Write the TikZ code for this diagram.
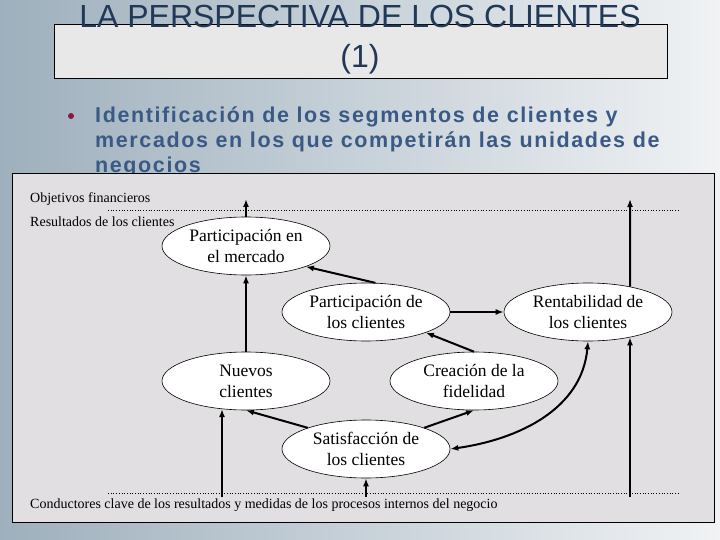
\documentclass[tikz,border=0pt]{standalone}
\usepackage{fontspec}
\setmainfont{Liberation Serif}
\setsansfont{Liberation Sans}
\usepackage{xcolor}
\usepackage{tikz}
\usetikzlibrary{arrows.meta,shapes,calc}
\definecolor{fondo}{RGB}{226,223,226}
\definecolor{cajatit}{RGB}{232,232,232}
\definecolor{titulo}{RGB}{33,56,86}
\definecolor{azul}{RGB}{58,90,134}
\definecolor{vino}{RGB}{140,24,60}
\tikzstyle{elip}=[ellipse, draw, fill=white, line width=0.6pt,% ovalos del mapa
minimum width=168pt, minimum height=58pt, inner sep=0pt, align=center,
font=\fontsize{17.5}{21}\selectfont]
\tikzstyle{flecha}=[-{Latex[length=8pt,width=6pt]}, line width=2pt]
\tikzstyle{nivel}=[anchor=base west, inner sep=0pt, font=\fontsize{14}{16}\selectfont]
\tikzstyle{punteada}=[dotted, line width=0.7pt]

\begin{document}
\begin{tikzpicture}[x=1pt,y=1pt]
\useasboundingbox (0,0) rectangle (720,-540);
\shade[left color={rgb,255:red,158;green,176;blue,189}, right color={rgb,255:red,240;green,242;blue,244}] (0,0) rectangle (720,-540);
% titulo
\draw[fill=cajatit, line width=0.8pt] (54,-24) rectangle (667,-78);
\node[anchor=base, text=titulo, font=\sffamily\fontsize{32}{38}\selectfont] (tit1) at (360,-28) {LA PERSPECTIVA DE LOS CLIENTES};
\node[anchor=base, text=titulo, font=\sffamily\fontsize{32}{38}\selectfont] (tit2) at (360,-68) {(1)};
% vineta
\node[circle, fill=vino, inner sep=0pt, minimum size=6pt] (bu) at (71,-116) {};
\node[anchor=north west, align=left, inner sep=0pt, text=azul,
  font=\sffamily\bfseries\fontsize{21.5}{25}\selectfont\addfontfeatures{LetterSpace=7.5}] (txt) at (95,-106.5)
  {Identificación de los segmentos de clientes y\\mercados en los que competirán las unidades de\\negocios};
% mapa
\draw[fill=fondo, line width=1pt] (12,-174) rectangle (714,-522);
\node[nivel] (obj) at (30,-203) {Objetivos financieros};
\node[nivel] (res) at (30,-226) {Resultados de los clientes};
\node[nivel] (con) at (30,-508) {Conductores clave de los resultados y medidas de los procesos internos del negocio};
\coordinate (d1) at (108,-210);
\coordinate (d2) at (679,-210);
\coordinate (d3) at (108,-493);
\coordinate (d4) at (679,-493);
\draw[punteada] (d1) -- (d2);
\draw[punteada] (d3) -- (d4);

\node[elip] (pm) at (246,-246) {Participación en\\el mercado};
\node[elip] (pc) at (366,-312) {Participación de\\los clientes};
\node[elip] (re) at (588,-312) {Rentabilidad de\\los clientes};
\node[elip] (nc) at (246,-381) {Nuevos\\clientes};
\node[elip] (cf) at (474,-381) {Creación de la\\fidelidad};
\node[elip] (sa) at (366,-449) {Satisfacción de\\los clientes};

\coordinate (of1) at (246,-199);
\coordinate (of2) at (630,-199);
\coordinate (cb1) at (222,-497);
\coordinate (cb2) at (366,-497);
\coordinate (cb3) at (630,-497);

\draw[flecha] (pm) -- (of1);
\draw[flecha] (re.31) -- (of2);
\draw[flecha] (nc) -- (pm);
\draw[flecha] (pc.72) -- (pm.-19);
\draw[flecha] (pc) -- (re);
\draw[flecha] (cf.north) -- (pc.-19);
\draw[flecha] (sa.160) -- (nc.south);
\draw[flecha] (sa.20) -- (cf.south);
\draw[{Latex[length=8pt,width=6pt]}-{Latex[length=8pt,width=6pt]}, line width=2pt] (sa.east) to[out=8,in=-95] (re.south);
\draw[flecha] (cb1) -- (cb1 |- nc.-131);
\draw[flecha] (cb2) -- (sa.south);
\draw[flecha] (cb3) -- (cb3 |- re.-31);
\end{tikzpicture}
\end{document}
